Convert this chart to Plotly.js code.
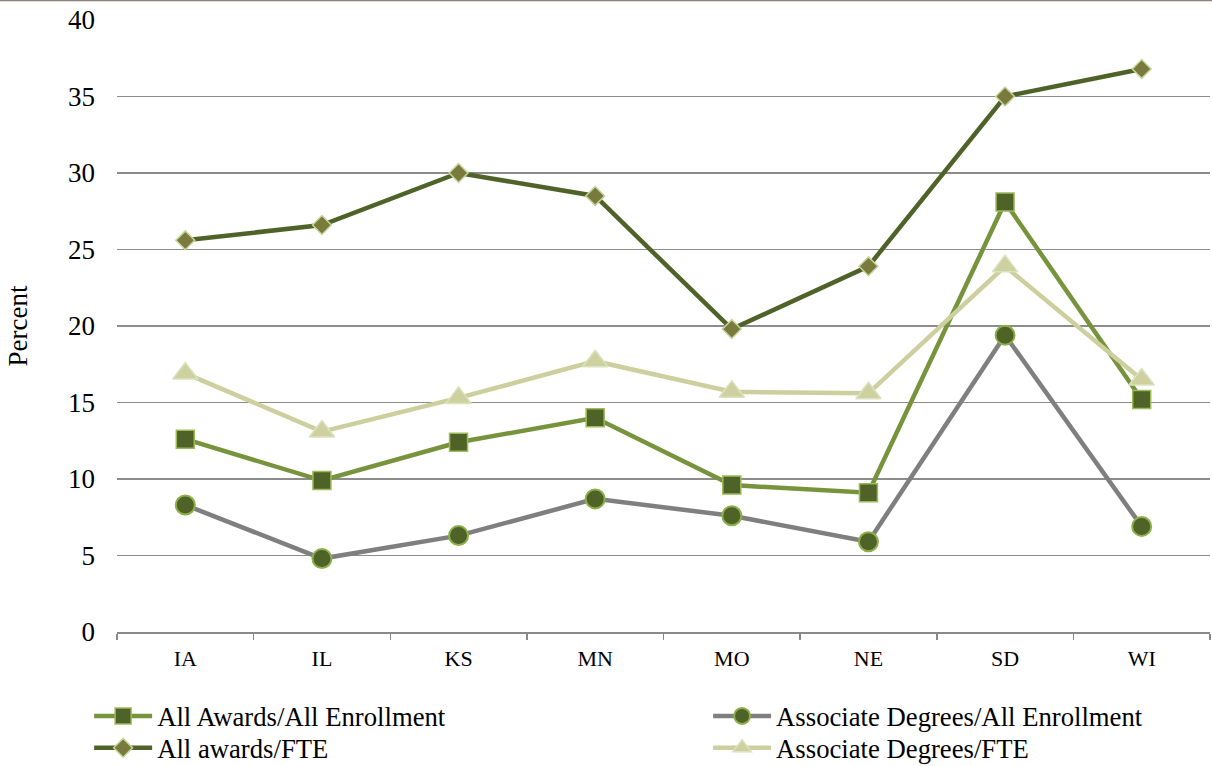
<!DOCTYPE html>
<html>
<head>
<meta charset="utf-8">
<script src="https://cdn.plot.ly/plotly-3.0.1.min.js"></script>
<style>html,body{margin:0;padding:0;background:#fff;}#chart{width:1212px;height:766px;}</style>
</head>
<body>
<div id="chart"></div>
<script>
const states = ["IA","IL","KS","MN","MO","NE","SD","WI"];
const allAwardsAllEnroll = [12.6, 9.9, 12.4, 14.0, 9.6, 9.1, 28.1, 15.2];
const assocAllEnroll = [8.3, 4.8, 6.3, 8.7, 7.6, 5.9, 19.4, 6.9];
const allAwardsFTE = [25.6, 26.6, 30.0, 28.5, 19.8, 23.9, 35.0, 36.8];
const assocFTE = [16.9, 13.1, 15.3, 17.7, 15.7, 15.6, 23.9, 16.5];
const yTicks = [0,5,10,15,20,25,30,35,40];

const FONT = "Liberation Serif, Times New Roman, serif";

const traces = [
  {x: states, y: allAwardsAllEnroll, name: "All Awards/All Enrollment", mode: "lines+markers", legend: "legend",
   line: {color: "#77933C", width: 4.5},
   marker: {symbol: "square", size: 18, color: "#4F6228", line: {color: "#9BBB59", width: 1.5}}},
  {x: states, y: assocAllEnroll, name: "Associate Degrees/All Enrollment", mode: "lines+markers", legend: "legend2",
   line: {color: "#7F7F7F", width: 4.5},
   marker: {symbol: "circle", size: 19, color: "#4F6228", line: {color: "#8DB04A", width: 2}}},
  {x: states, y: allAwardsFTE, name: "All awards/FTE", mode: "lines+markers", legend: "legend3",
   line: {color: "#4F6228", width: 4.5},
   marker: {symbol: "diamond", size: 14.5, color: "#7A7A3C", line: {color: "#C3D69B", width: 1.5}}},
  {x: states, y: assocFTE, name: "Associate Degrees/FTE", mode: "lines+markers", legend: "legend4",
   line: {color: "#CDCF9E", width: 4.5},
   marker: {symbol: "triangle-up", size: 22, color: "#CFD0A0", line: {color: "#D7E4BD", width: 1.5}}}
];

function leg(x, y) {
  return {x: x, xanchor: "left", y: y, yanchor: "middle", orientation: "v",
          itemwidth: 58, bgcolor: "rgba(0,0,0,0)", borderwidth: 0,
          font: {size: 26.7, family: FONT, color: "#000"}};
}

const layout = {
  width: 1212, height: 766,
  margin: {l: 117, r: 2, t: 20, b: 134, autoexpand: false},
  paper_bgcolor: "#fff", plot_bgcolor: "#fff",
  font: {family: FONT, color: "#000"},
  showlegend: true,
  legend: leg(-0.0255, -0.1373),
  legend2: leg(0.5408, -0.1373),
  legend3: leg(-0.0255, -0.1895),
  legend4: leg(0.5408, -0.1895),
  xaxis: {type: "category", categoryorder: "array", categoryarray: states,
          range: [-0.5, 7.5], showgrid: false, zeroline: false,
          showline: true, linecolor: "#898989", linewidth: 1.5,
          ticks: "outside", tickson: "boundaries", ticklen: 6, tickcolor: "#898989", tickwidth: 1.5,
          tickfont: {size: 22}, ticklabelstandoff: 6},
  yaxis: {range: [0, 40], tickvals: yTicks, ticktext: yTicks.map(String),
          showgrid: true, gridcolor: "#8C8C8C", gridwidth: 1.6, zeroline: false, showline: false,
          ticks: "", tickfont: {size: 27}, ticklabelstandoff: 21,
          title: {text: "Percent", font: {size: 27}, standoff: 32}},
  shapes: [{type: "line", xref: "paper", yref: "paper", x0: -0.2, x1: 1.1, y0: 1.0319, y1: 1.0319,
            line: {color: "#8C7F7D", width: 1.5}}]
};

Plotly.newPlot("chart", traces, layout, {displayModeBar: false, staticPlot: true});
</script>
</body>
</html>
